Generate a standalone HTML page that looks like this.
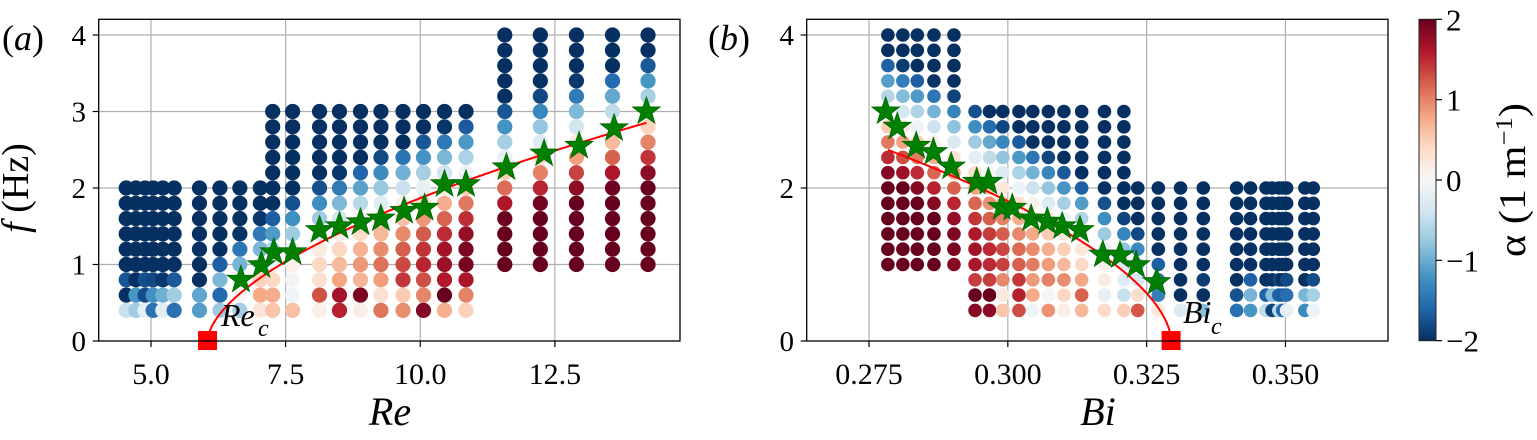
<!DOCTYPE html>
<html><head><meta charset="utf-8"><style>
html,body{margin:0;padding:0;background:#fff;}
svg{display:block;}
svg, svg text{font-family:"Liberation Serif","Times New Roman",Times,serif !important;}
</style></head><body>
<svg id="s" width="1537" height="440" viewBox="0 0 1537 440" xmlns="http://www.w3.org/2000/svg" font-family="Liberation Serif, Times New Roman, serif" style="font-family:'Liberation Serif','Times New Roman',serif">
<defs>
<clipPath id="ca"><rect x="98.7" y="19.3" width="581.3" height="321.7"/></clipPath>
<clipPath id="cb"><rect x="806.7" y="19.3" width="581.3" height="321.7"/></clipPath>
<linearGradient id="cg" x1="0" y1="1" x2="0" y2="0">
<stop offset="0" stop-color="#053061"/><stop offset="0.1" stop-color="#2166ac"/><stop offset="0.2" stop-color="#4393c3"/><stop offset="0.3" stop-color="#92c5de"/><stop offset="0.4" stop-color="#d1e5f0"/><stop offset="0.5" stop-color="#f7f7f7"/><stop offset="0.6" stop-color="#fddbc7"/><stop offset="0.7" stop-color="#f4a582"/><stop offset="0.8" stop-color="#d6604d"/><stop offset="0.9" stop-color="#b2182b"/><stop offset="1" stop-color="#67001f"/>
</linearGradient>
</defs>
<g id="grid" stroke="#b0b0b0" stroke-width="1.2"></g>
<g id="dotsA" clip-path="url(#ca)"></g>
<g id="dotsB" clip-path="url(#cb)"></g>
<g id="over"></g>
<g fill="none" stroke="#000" stroke-width="1.3">
<rect x="98.7" y="19.3" width="581.3" height="321.7"/>
<rect x="806.7" y="19.3" width="581.3" height="321.7"/>
</g>
<rect x="1419" y="19.3" width="17" height="321.4" fill="url(#cg)" stroke="#222" stroke-width="1"/>
<g id="ticks" stroke="#000" stroke-width="1.2"></g>
<g id="labels"></g>
<text x="28" y="188" font-size="38" text-anchor="middle" transform="rotate(-90 28 188)"><tspan font-style="italic">f</tspan> (Hz)</text>
<text x="390" y="425" font-size="40" font-style="italic" text-anchor="middle">Re</text>
<text x="1098" y="425" font-size="40" font-style="italic" text-anchor="middle">Bi</text>
<text x="2" y="50" font-size="36">(<tspan font-style="italic">a</tspan>)</text>
<text x="708" y="50" font-size="36">(<tspan font-style="italic">b</tspan>)</text>
<text x="1525" y="180" font-size="38" text-anchor="middle" transform="rotate(-90 1525 180)" textLength="154" lengthAdjust="spacingAndGlyphs">α (1 m<tspan baseline-shift="super" font-size="24">−1</tspan>)</text>
</svg>
<script>
var NS="http://www.w3.org/2000/svg";
function el(p,t,a){var e=document.createElementNS(NS,t);for(var k in a)e.setAttribute(k,a[k]);p.appendChild(e);return e;}
var stops=["#053061","#2166ac","#4393c3","#92c5de","#d1e5f0","#f7f7f7","#fddbc7","#f4a582","#d6604d","#b2182b","#67001f"];
function hx(c){return [parseInt(c.substr(1,2),16),parseInt(c.substr(3,2),16),parseInt(c.substr(5,2),16)];}
function cmap(v){v=Math.max(-2,Math.min(2,v));var t=(v+2)/4*10;var i=Math.min(9,Math.floor(t));var f=t-i;var a=hx(stops[i]),b=hx(stops[i+1]);
return "rgb("+[0,1,2].map(function(k){return Math.round(a[k]+(b[k]-a[k])*f);}).join(",")+")";}
function rnd(a,b){var s=Math.sin(a*127.1+b*311.7)*43758.5453;return s-Math.floor(s);}
function Y(f){return 341-76.5*f;}
function XA(r){return 151+(r-5)*53.85;}
function XB(b){return 869+(b-0.275)*5553;}
function alpha(f,fc,seed,amp){var a;
 if(fc<=0.05){a=-2.5*f;}
 else if(f>=fc){a=-2.6*(f-fc);}
 else{a=4*f*(fc-f)/(fc*fc)*amp;}
 if(f<=0.65){a+= (rnd(seed,f)-0.5)*2.0;}
 else if(f<=0.9){a+=(rnd(seed,f)-0.5)*0.8;}
 return a;}
function clamp(v,a,b){return Math.max(a,Math.min(b,v));}
function rows(lo,hi){var r=[];for(var f=hi;f>=lo-1e-6;f-=0.2)r.push(Math.round(f*10)/10);return r;}
var g=document.getElementById("grid");
[5,7.5,10,12.5].forEach(function(r){el(g,"line",{x1:XA(r),x2:XA(r),y1:19.3,y2:341});});
[1,2,3,4].forEach(function(f){el(g,"line",{x1:98.7,x2:680,y1:Y(f),y2:Y(f)});});
[0.275,0.3,0.325,0.35].forEach(function(b){el(g,"line",{x1:XB(b),x2:XB(b),y1:19.3,y2:341});});
[2,4].forEach(function(f){el(g,"line",{x1:806.7,x2:1388,y1:Y(f),y2:Y(f)});});
var dA=document.getElementById("dotsA");
function fcA(r){return r<=6.05?0:0.836*Math.pow(r-6.05,0.585)*1.03;}
var colsA=[];
[4.54,4.72,4.89,5.04,5.22,5.43].forEach(function(r){colsA.push([r,0.4,2.0]);});
[5.9,6.28,6.65,7.03].forEach(function(r){colsA.push([r,0.4,2.0]);});
[7.26,7.63,8.13,8.5,8.89,9.27,9.68,10.06,10.45,10.85].forEach(function(r){colsA.push([r,0.4,3.0]);});
[11.57,12.23,12.9,13.57,14.23].forEach(function(r){colsA.push([r,1.0,4.0]);});
colsA.forEach(function(c){var amp=clamp((c[0]-7)*0.5,0.3,2.4);rows(c[1],c[2]).forEach(function(f){
 el(dA,"circle",{cx:XA(c[0]),cy:Y(f),r:7.6,fill:cmap(alpha(f,fcA(c[0]),c[0],amp))});});});
var dB=document.getElementById("dotsB");
function fcB(b){var d=0.3294-b;return d<=0?0:22.1*Math.pow(d,0.674);}
var colsB=[];
[0.2784,0.2811,0.2837,0.2867,0.2903].forEach(function(b){colsB.push([b,1.0,4.0]);});
[0.2941,0.2967,0.2991,0.302,0.3045,0.3073,0.3101,0.3133,0.3174,0.3209].forEach(function(b){colsB.push([b,0.4,3.0]);});
[0.3234,0.3271,0.3311,0.3352,0.3412,0.3437,0.3465,0.3476,0.3488,0.3495,0.3502,0.3535,0.355].forEach(function(b){colsB.push([b,0.4,2.0]);});
colsB.forEach(function(c){var amp=clamp((0.322-c[0])*60,0.3,2.4);rows(c[1],c[2]).forEach(function(f){
 el(dB,"circle",{cx:XB(c[0]),cy:Y(f),r:6.8,fill:cmap(alpha(f,fcB(c[0]),c[0]*1000,amp))});});});
var ov=document.getElementById("over");
var p="";for(var i=0;i<=120;i++){var r=6.05+(14.2-6.05)*Math.pow(i/120,2);var f=0.836*Math.pow(r-6.05,0.585);p+=(i?"L":"M")+XA(r).toFixed(1)+","+Y(f).toFixed(1);}
el(ov,"path",{d:p,fill:"none",stroke:"#ff0000","stroke-width":2});
p="";for(var i=0;i<=120;i++){var d=(0.3294-0.2784)*Math.pow(1-i/120,2);var b=0.3294-d;var f=13.46*Math.pow(d,0.566);p+=(i?"L":"M")+XB(b).toFixed(1)+","+Y(f).toFixed(1);}
el(ov,"path",{d:p,fill:"none",stroke:"#ff0000","stroke-width":2});
function star(x,y){var s="";for(var k=0;k<10;k++){var R=k%2?5.8:14.5;var a=-Math.PI/2+k*Math.PI/5;s+=(x+R*Math.cos(a)).toFixed(1)+","+(y+R*Math.sin(a)).toFixed(1)+" ";}
el(ov,"polygon",{points:s,fill:"#008000",stroke:"#006400","stroke-width":0.8});}
[[6.67,0.8],[7.05,0.99],[7.28,1.16],[7.63,1.16],[8.13,1.45],[8.5,1.5],[8.89,1.55],[9.27,1.6],[9.7,1.7],[10.08,1.74],[10.45,2.05],[10.85,2.05],[11.6,2.27],[12.3,2.45],[12.95,2.55],[13.6,2.78],[14.2,3.0]].forEach(function(s){star(XA(s[0]),Y(s[1]));});
[[0.278,3.0],[0.2801,2.8],[0.2835,2.55],[0.2866,2.47],[0.2898,2.28],[0.2944,2.08],[0.2965,2.08],[0.2989,1.75],[0.3008,1.74],[0.3042,1.6],[0.3071,1.56],[0.3098,1.5],[0.313,1.45],[0.3171,1.13],[0.3202,1.12],[0.3231,0.99],[0.3268,0.77]].forEach(function(s){star(XB(s[0]),Y(s[1]));});
el(ov,"rect",{x:XA(6.05)-9.5,y:331,width:19,height:19,fill:"#ff0000"});
el(ov,"rect",{x:XB(0.3294)-9.5,y:331,width:19,height:19,fill:"#ff0000"});
function it(x,y,s,sz){var t=el(ov,"text",{x:x,y:y,"font-size":sz,"font-style":"italic"});t.textContent=s;}
it(221,326,"Re",32);it(258,336,"c",24);it(1183,323,"Bi",32);it(1211,334,"c",24);
var tk=document.getElementById("ticks"),lb=document.getElementById("labels");
function txt(x,y,s,sz,anchor){var t=el(lb,"text",{x:x,y:y,"font-size":sz,"text-anchor":anchor});t.textContent=s;}
[[5,"5.0"],[7.5,"7.5"],[10,"10.0"],[12.5,"12.5"]].forEach(function(a){el(tk,"line",{x1:XA(a[0]),x2:XA(a[0]),y1:341,y2:347});txt(XA(a[0]),384,a[1],30,"middle");});
[0,1,2,3,4].forEach(function(f){el(tk,"line",{x1:92.7,x2:98.7,y1:Y(f),y2:Y(f)});txt(86,Y(f)+10,String(f),29,"end");});
[[0.275,"0.275"],[0.3,"0.300"],[0.325,"0.325"],[0.35,"0.350"]].forEach(function(a){el(tk,"line",{x1:XB(a[0]),x2:XB(a[0]),y1:341,y2:347});txt(XB(a[0]),384,a[1],30,"middle");});
[0,2,4].forEach(function(f){el(tk,"line",{x1:800.7,x2:806.7,y1:Y(f),y2:Y(f)});txt(794,Y(f)+10,String(f),29,"end");});
[[2,"2"],[1,"1"],[0,"0"],[-1,"−1"],[-2,"−2"]].forEach(function(a){var y=180-a[0]*80.35;el(tk,"line",{x1:1436,x2:1442,y1:y,y2:y});txt(1446,y+11,a[1],31,"start");});
</script>
</body></html>
